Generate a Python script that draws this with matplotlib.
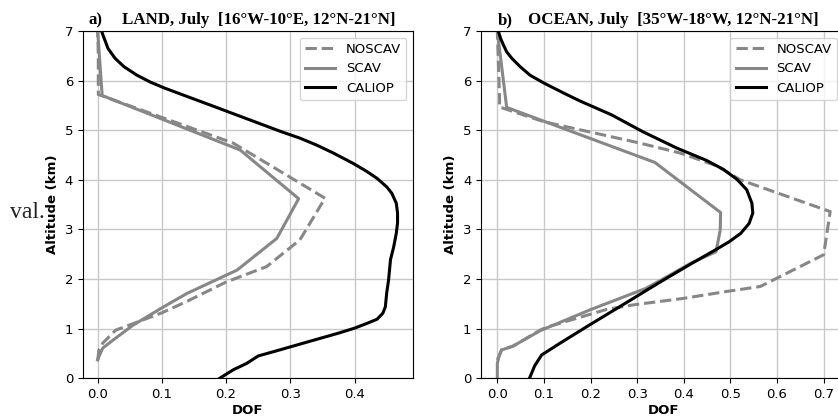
import matplotlib.pyplot as plt

plt.rcParams['font.family'] = ['DejaVu Sans']

# panel a: LAND
land_caliop_alt = [0.0, 0.17, 0.30, 0.45, 0.57, 0.67, 0.77, 0.91, 1.01, 1.11, 1.19, 1.31, 1.44, 1.71,
                   1.98, 2.39, 2.65, 2.92, 3.13, 3.33, 3.53, 3.73, 3.86, 4.03, 4.17, 4.33, 4.54, 4.70,
                   4.84, 4.97, 5.13, 5.28, 5.46, 5.71, 5.85, 5.97, 6.11, 6.28, 6.45, 6.65, 6.79, 6.89, 7.0]
land_caliop = [0.190, 0.211, 0.232, 0.250, 0.283, 0.310, 0.337, 0.375, 0.400, 0.420, 0.435, 0.444, 0.448, 0.450,
               0.453, 0.456, 0.461, 0.465, 0.467, 0.467, 0.465, 0.458, 0.450, 0.435, 0.419, 0.398, 0.367, 0.341,
               0.315, 0.286, 0.253, 0.222, 0.185, 0.133, 0.104, 0.082, 0.061, 0.041, 0.027, 0.016, 0.012, 0.009,
               0.006]
land_noscav_alt = [0.37, 0.57, 0.71, 0.97, 1.32, 1.55, 1.94, 2.25, 2.79, 3.63, 4.74, 5.72, 6.5, 7.0]
land_noscav = [0.000, 0.002, 0.008, 0.028, 0.100, 0.139, 0.200, 0.263, 0.315, 0.354, 0.211, 0.001, 0.001, 0.000]
land_scav_alt = [0.37, 0.5, 0.61, 0.77, 1.07, 1.42, 1.71, 2.18, 2.82, 3.62, 4.60, 5.70, 7.0]
land_scav = [0.000, 0.004, 0.008, 0.024, 0.055, 0.100, 0.139, 0.217, 0.279, 0.313, 0.222, 0.007, 0.000]

# panel b: OCEAN
ocean_caliop_alt = [0.0, 0.25, 0.47, 0.71, 1.03, 1.23, 1.44, 1.79, 2.0, 2.32, 2.45, 2.60, 2.75, 2.92,
                    3.12, 3.33, 3.53, 3.80, 4.01, 4.21, 4.39, 4.64, 4.97, 5.31, 5.59, 5.75, 5.95, 6.11,
                    6.28, 6.45, 6.58, 6.72, 6.85, 7.0]
ocean_caliop = [0.069, 0.080, 0.095, 0.135, 0.190, 0.225, 0.262, 0.323, 0.360, 0.418, 0.442, 0.470, 0.497, 0.522,
                0.540, 0.548, 0.546, 0.535, 0.514, 0.485, 0.449, 0.385, 0.312, 0.245, 0.177, 0.142, 0.100, 0.070,
                0.049, 0.031, 0.020, 0.013, 0.007, 0.002]
ocean_noscav_alt = [0.37, 0.57, 0.65, 0.97, 1.03, 1.39, 1.48, 1.61, 1.75, 1.85, 2.49, 3.36, 4.0, 4.28,
                    4.54, 4.74, 5.17, 5.47, 5.58, 7.0]
ocean_noscav = [0.000, 0.009, 0.034, 0.092, 0.106, 0.235, 0.292, 0.399, 0.492, 0.564, 0.700, 0.714, 0.521, 0.471,
                0.392, 0.306, 0.100, 0.004, 0.005, 0.000]
ocean_scav_alt = [0.0, 0.3, 0.45, 0.57, 0.65, 0.96, 1.38, 1.81, 2.0, 2.32, 2.55, 2.98, 3.34, 4.35, 5.46, 7.0]
ocean_scav = [0.000, 0.000, 0.004, 0.009, 0.034, 0.092, 0.199, 0.318, 0.355, 0.415, 0.469, 0.478, 0.479, 0.338,
              0.020, 0.000]

grey = '#878787'
lw = 2.2
fs = 9.5

fig = plt.figure(figsize=(8.38, 4.18), dpi=100)
ax1 = fig.add_axes([0.0990, 0.0950, 0.3938, 0.8309])
ax2 = fig.add_axes([0.5740, 0.0950, 0.4356, 0.8309])

panels = [
    (ax1, land_noscav, land_noscav_alt, land_scav, land_scav_alt, land_caliop, land_caliop_alt,
     (-0.0229, 0.491), [0.0, 0.1, 0.2, 0.3, 0.4]),
    (ax2, ocean_noscav, ocean_noscav_alt, ocean_scav, ocean_scav_alt, ocean_caliop, ocean_caliop_alt,
     (-0.035, 0.748), [0.0, 0.1, 0.2, 0.3, 0.4, 0.5, 0.6, 0.7]),
]

for ax, nos, nos_alt, sc, sc_alt, cal, cal_alt, xl, xt in panels:
    ax.plot(nos, nos_alt, color=grey, lw=lw, ls='--', label='NOSCAV')
    ax.plot(sc, sc_alt, color=grey, lw=lw, label='SCAV')
    ax.plot(cal, cal_alt, color='black', lw=lw, label='CALIOP')
    ax.set_xlim(xl)
    ax.set_ylim(0, 7)
    ax.set_xticks(xt)
    ax.set_xticklabels(['%.1f' % v for v in xt])
    ax.set_yticks(range(8))
    ax.grid(True, color='#c8c8c8', lw=1)
    ax.set_axisbelow(True)
    ax.tick_params(labelsize=fs)
    ax.set_xlabel('DOF', fontsize=fs, fontweight='bold', labelpad=2)
    ax.set_ylabel('Altitude (km)', fontsize=fs, fontweight='bold')

ax1.legend(loc='upper right', fontsize=fs, handlelength=2.3)
ax2.legend(loc='upper left', bbox_to_anchor=(0.665, 1.0), fontsize=fs, handlelength=2.3)

serif = 'Liberation Serif'
fig.text(88 / 838, 1 - 24 / 418, 'a)', fontfamily=serif, fontweight='bold', fontsize=12.2)
fig.text(122 / 838, 1 - 24 / 418, 'LAND, July  [16°W-10°E, 12°N-21°N]',
         fontfamily=serif, fontweight='bold', fontsize=12.2)
fig.text(498 / 838, 1 - 24 / 418, 'b)', fontfamily=serif, fontweight='bold', fontsize=12.2)
fig.text(528 / 838, 1 - 24 / 418, 'OCEAN, July  [35°W-18°W, 12°N-21°N]',
         fontfamily=serif, fontweight='bold', fontsize=12.2)
fig.text(10 / 838, 1 - 212 / 418, 'val.', fontfamily=serif, fontsize=17, color='#222222', va='center')

fig.savefig('out.png', dpi=100)
